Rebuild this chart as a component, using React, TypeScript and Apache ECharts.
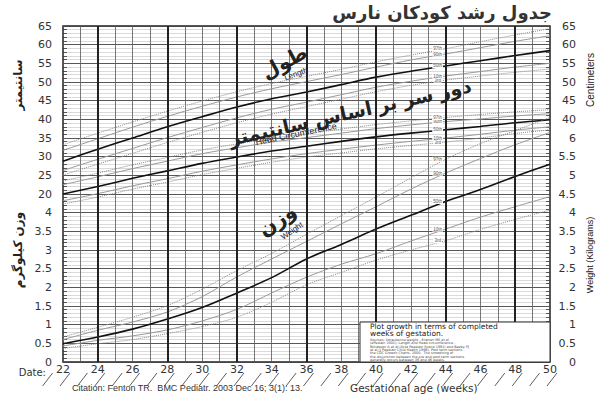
import React, { useEffect, useRef } from "react";
import * as echarts from "echarts";

// gestational age (weeks) where the curves are read
const weeks = [22, 24, 26, 28, 30, 32, 34, 36, 38, 40, 42, 44, 46, 48, 50];

// length (cm)
const length3 = [25.1, 28.0, 30.9, 33.8, 36.5, 39.1, 41.4, 43.4, 45.4, 47.4, 49.1, 50.5, 51.6, 52.6, 53.5];
const length10 = [26.3, 29.3, 32.2, 35.1, 37.8, 40.4, 42.7, 44.6, 46.6, 48.6, 50.2, 51.6, 52.8, 54.0, 55.0];
const length50 = [28.8, 32.0, 35.0, 38.0, 40.7, 43.3, 45.5, 47.3, 49.3, 51.3, 52.9, 54.3, 55.7, 57.1, 58.4];
const length90 = [31.7, 34.8, 37.9, 40.8, 43.5, 46.0, 48.2, 50.1, 52.0, 54.0, 55.9, 57.5, 59.2, 60.9, 62.4];
const length97 = [33.2, 36.3, 39.3, 42.2, 44.9, 47.4, 49.6, 51.5, 53.4, 55.4, 57.2, 58.9, 60.8, 62.6, 64.3];

// head circumference (cm)
const head3 = [17.3, 19.2, 21.3, 23.2, 25.2, 26.9, 28.5, 29.9, 31.0, 32.1, 33.0, 33.9, 35.0, 36.2, 37.2];
const head10 = [18.2, 20.1, 22.2, 24.1, 26.1, 27.8, 29.4, 30.8, 32.0, 33.1, 34.1, 35.0, 36.0, 37.1, 38.0];
const head50 = [20.0, 22.0, 24.2, 26.2, 28.2, 29.9, 31.5, 32.8, 34.1, 35.3, 36.3, 37.2, 38.1, 39.1, 39.9];
const head90 = [22.5, 24.6, 26.8, 28.8, 30.8, 32.4, 33.9, 35.1, 36.3, 37.5, 38.5, 39.4, 40.1, 40.9, 41.5];
const head97 = [23.5, 25.6, 27.8, 29.8, 31.8, 33.4, 34.9, 36.1, 37.4, 38.6, 39.6, 40.5, 41.3, 42.0, 42.6];

// weight (kg)
const weight3 = [0.36, 0.49, 0.6, 0.76, 0.95, 1.2, 1.6, 2.07, 2.4, 2.73, 3.0, 3.25, 3.55, 3.82, 4.07];
const weight10 = [0.43, 0.58, 0.7, 0.86, 1.1, 1.41, 1.85, 2.27, 2.62, 2.9, 3.24, 3.56, 3.88, 4.16, 4.43];
const weight50 = [0.49, 0.67, 0.88, 1.15, 1.46, 1.85, 2.26, 2.76, 3.15, 3.56, 3.93, 4.3, 4.62, 4.97, 5.3];
const weight90 = [0.6, 0.85, 1.07, 1.34, 1.75, 2.28, 2.76, 3.23, 3.7, 4.16, 4.63, 5.06, 5.45, 5.82, 6.15];
const weight97 = [0.67, 0.93, 1.2, 1.51, 1.95, 2.45, 2.91, 3.42, 3.92, 4.42, 4.93, 5.43, 5.85, 6.2, 6.55];

const percentileNames = ["3rd", "10th", "50th", "90th", "97th"];
const thickWeeks = [24, 28, 32, 36, 40, 44, 48];
const dateSlashWeeks = [21, 22, 23, 24, 25, 26, 27, 28, 29, 30, 31, 32, 33, 34, 35, 36, 37, 38, 39, 40, 41, 42, 43, 44, 45, 46, 47, 48, 49, 50];

const labelIndex = 11; // week 44, where the percentile names sit

const sourceLines = [
  "Sources: Intrauterine weight - Kramer MS et al",
  "(ePediatr 2001); Length and Head circumference -",
  "Niklasson A et al (Acta Paediatr Scand 1991) and Beeby PJ",
  "et al (J Paediatr Child Health 1996). Post term sections -",
  "the CDC Growth Charts, 2000.  The smoothing of",
  "the disjunction between the pre and post term sections",
  "generally occurs between 36 and 46 weeks.",
];

const FONT = "DejaVu Sans";
const ARIAL = "Liberation Sans";

const lineStyles: Record<string, any> = {
  "3rd": { color: "#8a8a8a", width: 1, type: "dotted" },
  "10th": { color: "#999", width: 1, type: "solid" },
  "50th": { color: "#111", width: 1.6, type: "solid" },
  "90th": { color: "#999", width: 1, type: "solid" },
  "97th": { color: "#8a8a8a", width: 1, type: "dotted" },
};

const makeCurve = (values: number[], pct: string, yAxisIndex: number) => ({
  type: "line",
  xAxisIndex: 0,
  yAxisIndex,
  smooth: 0.3,
  silent: true,
  symbol: "circle",
  symbolSize: 0.01,
  showSymbol: true,
  showAllSymbol: true,
  z: 4,
  lineStyle: lineStyles[pct],
  itemStyle: { color: lineStyles[pct].color },
  label: { show: false },
  data: weeks.map((w, i) =>
    i === labelIndex
      ? {
          value: [w, values[i]],
          label: {
            show: true,
            position: "inside",
            offset: [-8, 0],
            formatter: pct,
            fontSize: 4.5,
            fontFamily: ARIAL,
            color: "#555",
            backgroundColor: "#fff",
            padding: [0, 1],
          },
        }
      : [w, values[i]]
  ),
});

const rotText = (
  text: string,
  x: number,
  y: number,
  rotation: number,
  fontSize: number,
  bold = false,
  family = FONT
) => ({
  type: "text",
  x,
  y,
  rotation,
  z: 20,
  silent: true,
  style: {
    text,
    x: 0,
    y: 0,
    align: "center",
    verticalAlign: "middle",
    fontSize,
    fontWeight: bold ? "bold" : "normal",
    fontFamily: family,
    fill: "#222",
  },
});

const App: React.FC = () => {
  const chartRef = useRef<HTMLDivElement>(null);

  useEffect(() => {
    if (!chartRef.current) return;
    const myChart = echarts.init(chartRef.current, undefined, { renderer: "svg" });

    const axisLabelBase = { fontSize: 11, color: "#333", fontFamily: FONT };

    const option: any = {
      animation: false,
      backgroundColor: "#fff",
      grid: {
        left: 63,
        right: 50,
        top: 26,
        bottom: 38,
        show: true,
        borderColor: "#222",
        borderWidth: 1.5,
        backgroundColor: "#fff",
      },
      xAxis: {
        type: "value",
        min: 22,
        max: 50,
        interval: 2,
        axisLine: { show: false },
        axisTick: { show: false },
        axisLabel: { ...axisLabelBase, margin: 2 },
        splitLine: { show: true, lineStyle: { color: "#555", width: 0.8 } },
        minorTick: { show: false, splitNumber: 2 },
        minorSplitLine: { show: true, lineStyle: { color: "#555", width: 0.8 } },
      },
      yAxis: [
        {
          // centimetres, left
          type: "value",
          position: "left",
          min: -25,
          max: 65,
          interval: 5,
          axisLine: { show: false },
          axisTick: { show: false, inside: true },
          axisLabel: {
            ...axisLabelBase,
            margin: 11,
            formatter: (v: number) => (v >= 20 ? String(v) : ""),
          },
          splitLine: { show: true, lineStyle: { color: "#444", width: 0.9 } },
          minorTick: { show: true, splitNumber: 5, length: 4, lineStyle: { color: "#333", width: 0.8 } },
          minorSplitLine: { show: true, lineStyle: { color: "#b4b4b4", width: 0.5 } },
        },
        {
          // kilograms, left
          type: "value",
          position: "left",
          min: 0,
          max: 9,
          interval: 0.5,
          axisLine: { show: false },
          axisTick: { show: false },
          splitLine: { show: false },
          axisLabel: {
            ...axisLabelBase,
            margin: 11,
            formatter: (v: number) => (v <= 4 ? String(v) : ""),
          },
        },
        {
          // centimetres, right
          type: "value",
          position: "right",
          min: -25,
          max: 65,
          interval: 5,
          axisLine: { show: false },
          axisTick: { show: false, inside: true },
          splitLine: { show: false },
          minorTick: { show: true, splitNumber: 5, length: 4, lineStyle: { color: "#333", width: 0.8 } },
          axisLabel: {
            ...axisLabelBase,
            margin: 26,
            align: "right",
            formatter: (v: number) => (v >= 40 ? String(v) : ""),
          },
        },
        {
          // kilograms, right
          type: "value",
          position: "right",
          min: 0,
          max: 9,
          interval: 0.5,
          axisLine: { show: false },
          axisTick: { show: false },
          splitLine: { show: false },
          axisLabel: {
            ...axisLabelBase,
            margin: 26,
            align: "right",
            formatter: (v: number) => (v <= 6 ? String(v) : ""),
          },
        },
      ],
      series: [
        {
          type: "line",
          data: [],
          silent: true,
          z: 2,
          markLine: {
            silent: true,
            symbol: "none",
            label: { show: false },
            lineStyle: { color: "#222", width: 2, type: "solid" },
            data: thickWeeks.map((w) => ({ xAxis: w })),
          },
        },
        makeCurve(length3, percentileNames[0], 0),
        makeCurve(length10, percentileNames[1], 0),
        makeCurve(length50, percentileNames[2], 0),
        makeCurve(length90, percentileNames[3], 0),
        makeCurve(length97, percentileNames[4], 0),
        makeCurve(head3, percentileNames[0], 0),
        makeCurve(head10, percentileNames[1], 0),
        makeCurve(head50, percentileNames[2], 0),
        makeCurve(head90, percentileNames[3], 0),
        makeCurve(head97, percentileNames[4], 0),
        makeCurve(weight3, percentileNames[0], 1),
        makeCurve(weight10, percentileNames[1], 1),
        makeCurve(weight50, percentileNames[2], 1),
        makeCurve(weight90, percentileNames[3], 1),
        makeCurve(weight97, percentileNames[4], 1),
        {
          // slashes under the axis for writing dates
          type: "custom",
          xAxisIndex: 0,
          yAxisIndex: 1,
          clip: false,
          silent: true,
          data: dateSlashWeeks.map((w) => [w, 0]),
          renderItem: (_params: any, api: any) => {
            const p = api.coord([api.value(0), api.value(1)]);
            return {
              type: "line",
              shape: { x1: p[0] - 3, y1: p[1] + 24, x2: p[0] + 7, y2: p[1] + 11 },
              style: { stroke: "#333", lineWidth: 0.8 },
            };
          },
        },
      ],
      graphic: [
        {
          type: "text",
          right: 48,
          top: 3,
          z: 20,
          style: {
            text: "جدول رشد کودکان نارس",
            fontSize: 18,
            fontWeight: "bold",
            fontFamily: FONT,
            fill: "#333",
          },
        },
        rotText("سانتیمتر", 18, 85, Math.PI / 2, 12, true),
        rotText("وزن کیلوگرم", 18, 250, Math.PI / 2, 12, true),
        rotText("Centimeters", 590, 80, Math.PI / 2, 10, false, ARIAL),
        rotText("Weight (Kilograms)", 590, 255, Math.PI / 2, 9, false, ARIAL),
        rotText("طول", 284, 62, 0.5, 20, true),
        rotText("Length", 296, 74, 0.35, 8, false, ARIAL),
        rotText("دور سر بر اساس سانتیمتر", 350, 112, 0.22, 19, true),
        rotText("Head Circumference", 296, 134, 0.2, 9, false, ARIAL),
        rotText("وزن", 277, 220, 0.6, 20, true),
        rotText("Weight", 292, 231, 0.6, 8, false, ARIAL),
        {
          type: "text",
          x: 46,
          y: 372,
          z: 20,
          style: { text: "Date:", align: "right", verticalAlign: "middle", fontSize: 10, fontFamily: FONT, fill: "#333" },
        },
        {
          type: "text",
          x: 72,
          y: 388,
          z: 20,
          style: {
            text: "Citation: Fenton TR.  BMC Pediatr. 2003 Dec 16; 3(1): 13.",
            verticalAlign: "middle",
            fontSize: 9,
            fontFamily: ARIAL,
            fill: "#333",
          },
        },
        {
          type: "text",
          x: 350,
          y: 388,
          z: 20,
          style: {
            text: "Gestational age (weeks)",
            verticalAlign: "middle",
            fontSize: 10.5,
            fontFamily: FONT,
            fill: "#333",
          },
        },
        {
          type: "rect",
          z: 15,
          shape: { x: 360, y: 322, width: 190, height: 40 },
          style: { fill: "#fff", stroke: "#333", lineWidth: 1 },
        },
        {
          type: "text",
          x: 370,
          y: 322.5,
          z: 20,
          style: {
            text: "Plot growth in terms of completed\nweeks of gestation.",
            fontSize: 7.5,
            lineHeight: 7.5,
            fontFamily: FONT,
            fill: "#222",
          },
        },
        {
          type: "text",
          x: 370,
          y: 338,
          z: 20,
          style: {
            text: sourceLines.join("\n"),
            fontSize: 3.4,
            lineHeight: 3.4,
            fontFamily: FONT,
            fill: "#444",
          },
        },
      ],
    };

    myChart.setOption(option);

    return () => {
      myChart.dispose();
    };
  }, []);

  return (
    <div
      ref={chartRef}
      style={{ position: "fixed", left: 0, top: 0, width: "600px", height: "400px" }}
    />
  );
};

export default App;
